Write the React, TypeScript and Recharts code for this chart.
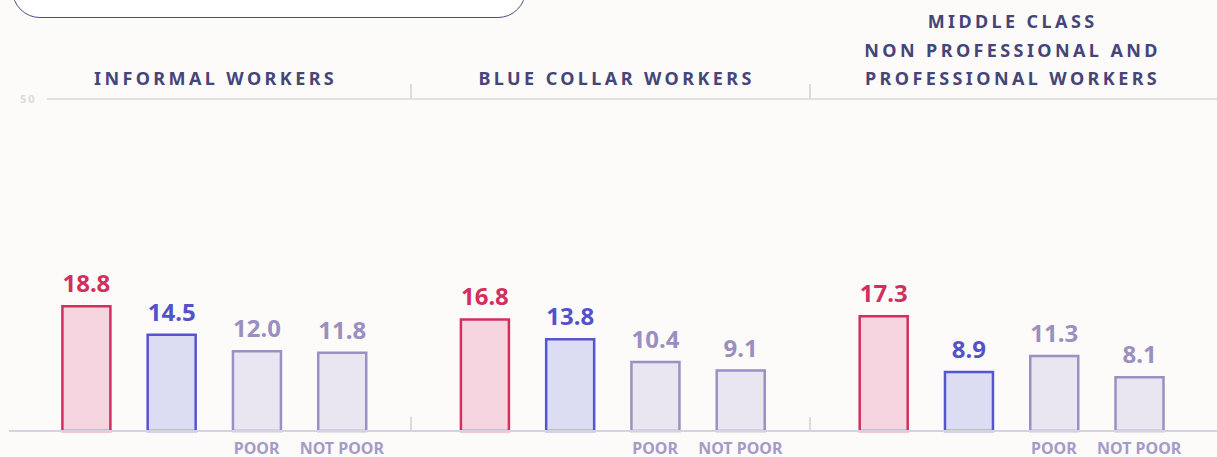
import React from 'react';
import { BarChart, Bar, XAxis, YAxis, Cell, LabelList, ReferenceLine } from 'recharts';

// chart values
const categories = ['group1', 'group2', 'poor', 'notPoor'];
const tickLabels = ['', '', 'POOR', 'NOT POOR'];
const informalWorkers = [18.8, 14.5, 12.0, 11.8];
const blueCollarWorkers = [16.8, 13.8, 10.4, 9.1];
const middleClassWorkers = [17.3, 8.9, 11.3, 8.1];
const panelTitles = [
    ['INFORMAL WORKERS'],
    ['BLUE COLLAR WORKERS'],
    ['MIDDLE CLASS', 'NON PROFESSIONAL AND', 'PROFESSIONAL WORKERS'],
];
const yTicks = [50];

const fills = ['#f6d5e0', '#dcdcf3', '#e9e5f1', '#e9e5f1'];
const strokes = ['#d22f60', '#5555cf', '#9c90c0', '#9c90c0'];
const labelColors = ['#d12f5f', '#5252c9', '#9a8fc0', '#9a8fc0'];

const FONT = '"Noto Sans", sans-serif';
const BG = '#fcfbf9';

const panels = [
    { values: informalWorkers, left: 9, width: 402, padL: 34.4, padR: 26.5, scale: true },
    { values: blueCollarWorkers, left: 411, width: 399, padL: 30.9, padR: 27, scale: false },
    { values: middleClassWorkers, left: 810, width: 407, padL: 30.7, padR: 35.2, scale: false },
];

function PovertyTick(props: any) {
    const { x, y, payload } = props;
    const label = tickLabels[categories.indexOf(payload.value)];
    return (
        <text x={x} y={y + 23} textAnchor="middle" fill="#a59bc8" fontSize={16} fontWeight={700} fontFamily={FONT}>
            {label}
        </text>
    );
}

function ValueLabel(props: any) {
    const { x, y, width, value, index } = props;
    return (
        <text
            x={x + width / 2}
            y={y - 14}
            textAnchor="middle"
            fill={labelColors[index] ?? '#9a8fc0'}
            fontSize={24}
            fontWeight={700}
            fontFamily={FONT}
        >
            {Number(value).toFixed(1)}
        </text>
    );
}

function Panel({ values, left, width, padL, padR, scale }: any) {
    const data = categories.map((name, i) => ({ name, value: values[i] }));
    return (
        <div style={{ position: 'absolute', left, top: 0 }}>
            <BarChart width={width} height={457} data={data} margin={{ top: 99, right: 0, bottom: 0, left: 0 }}>
                <XAxis
                    dataKey="name"
                    height={26}
                    padding={{ left: padL, right: padR }}
                    axisLine={{ stroke: '#d6d2e6', strokeWidth: 2 }}
                    tickLine={false}
                    tickSize={0}
                    tickMargin={0}
                    interval={0}
                    tick={<PovertyTick />}
                />
                <YAxis hide domain={[0, 50]} ticks={yTicks} />
                <ReferenceLine
                    y={50}
                    stroke="#e3e1de"
                    strokeWidth={2}
                    label={scale ? { value: '50', position: 'insideLeft', offset: 11, fill: '#dcdad6', fontSize: 11, fontWeight: 700, letterSpacing: 2, fontFamily: FONT } : undefined}
                    shape={(p: any) => (
                        <line x1={p.x1 + (scale ? 38 : 0)} y1={p.y1} x2={p.x2} y2={p.y2} stroke="#e3e1de" strokeWidth={2} />
                    )}
                />
                <Bar dataKey="value" barSize={48} strokeWidth={2.5} isAnimationActive={false}>
                    {data.map((d, i) => (
                        <Cell key={d.name} fill={fills[i]} stroke={strokes[i]} />
                    ))}
                    <LabelList dataKey="value" content={<ValueLabel />} />
                </Bar>
            </BarChart>
        </div>
    );
}

export default function App() {
    const titleCenters = [214, 615, 1011];
    return (
        <div style={{ position: 'absolute', left: 0, top: 0, width: 1217, height: 457, background: BG, overflow: 'hidden', fontFamily: FONT }}>
            <div
                style={{
                    position: 'absolute',
                    left: 12,
                    top: -60,
                    width: 514,
                    height: 77.5,
                    boxSizing: 'border-box',
                    border: '1.5px solid #4c4c82',
                    borderRadius: 28,
                    background: '#fff',
                }}
            />
            {panels.map((p, i) => (
                <Panel key={i} {...p} />
            ))}
            {panelTitles.map((lines, i) => (
                <div
                    key={i}
                    style={{
                        position: 'absolute',
                        left: titleCenters[i] - 250 + 1.6,
                        width: 500,
                        bottom: 457 - 92.2,
                        textAlign: 'center',
                        color: '#45457a',
                        fontSize: 18,
                        fontWeight: 700,
                        letterSpacing: 3.4,
                        lineHeight: '28.3px',
                    }}
                >
                    {lines.map((l) => (
                        <div key={l}>{l}</div>
                    ))}
                </div>
            ))}
            {[411, 810].map((x) => (
                <React.Fragment key={x}>
                    <div style={{ position: 'absolute', left: x - 1, top: 84, width: 2, height: 15, background: '#dedbd8' }} />
                    <div style={{ position: 'absolute', left: x - 1, top: 417, width: 2, height: 13, background: '#dedbd8' }} />
                </React.Fragment>
            ))}
        </div>
    );
}
